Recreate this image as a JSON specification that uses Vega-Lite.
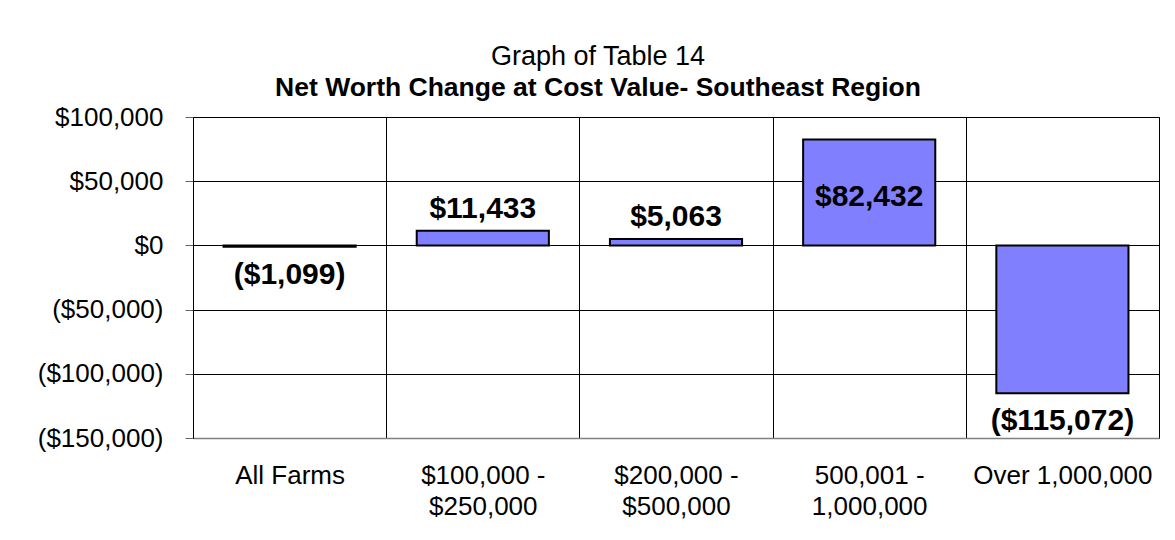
{
  "$schema": "https://vega.github.io/schema/vega-lite/v6.json",
  "autosize": {"type": "none"},
  "width": 966,
  "height": 321,
  "padding": {"left": 193, "top": 117, "right": 16, "bottom": 102},
  "background": "white",
  "title": {
    "text": "Graph of Table 14",
    "subtitle": "Net Worth Change at Cost Value- Southeast Region",
    "anchor": "middle",
    "frame": "group",
    "dx": -78,
    "offset": 2,
    "font": "Liberation Sans",
    "fontSize": 27,
    "fontWeight": "normal",
    "color": "black",
    "subtitleFont": "Liberation Sans",
    "subtitleFontSize": 26.5,
    "subtitleFontWeight": "bold",
    "subtitleColor": "black",
    "subtitlePadding": 4
  },
  "data": {
    "values": [
      {"group": "All Farms", "value": -1099},
      {"group": "$100,000 - $250,000", "value": 11433},
      {"group": "$200,000 - $500,000", "value": 5063},
      {"group": "500,001 - 1,000,000", "value": 82432},
      {"group": "Over 1,000,000", "value": -115072}
    ]
  },
  "encoding": {
    "x": {
      "field": "group",
      "type": "nominal",
      "sort": null,
      "scale": {"paddingInner": 0, "paddingOuter": 0},
      "axis": {
        "title": null,
        "labelAngle": 0,
        "labelFont": "Liberation Sans",
        "labelFontSize": 26,
        "labelColor": "black",
        "labelPadding": 24,
        "labelLineHeight": 31,
        "labelBaseline": "top",
        "labelExpr": "indexof(datum.label, ' - ') > 0 ? [slice(datum.label, 0, indexof(datum.label, ' - ') + 2), slice(datum.label, indexof(datum.label, ' - ') + 3)] : datum.label",
        "ticks": false,
        "tickSize": 0,
        "tickBand": "extent",
        "grid": true,
        "gridColor": "black",
        "gridWidth": 1,
        "gridOpacity": 1,
        "domainColor": "#808080",
        "domainWidth": 1.5
      }
    },
    "y": {
      "field": "value",
      "type": "quantitative",
      "scale": {"domain": [-150000, 100000], "nice": false, "zero": false},
      "axis": {
        "title": null,
        "values": [-150000, -100000, -50000, 0, 50000, 100000],
        "labelExpr": "datum.value < 0 ? format(datum.value, '($,.0f') : format(datum.value, '$,.0f') + '\u00a0'",
        "labelFont": "Liberation Sans",
        "labelFontSize": 26,
        "labelColor": "black",
        "labelPadding": 22,
        "tickSize": 8,
        "tickColor": "#666666",
        "domainColor": "black",
        "domainWidth": 1,
        "grid": true,
        "gridColor": "black",
        "gridWidth": 1,
        "gridOpacity": 1
      }
    }
  },
  "layer": [
    {
      "mark": {"type": "bar", "fill": "#8080FF", "stroke": "black", "strokeWidth": 2, "width": {"band": 0.684}}
    },
    {
      "transform": [{"filter": "datum.value > 0 && datum.value < 80000"}],
      "mark": {"type": "text", "font": "Liberation Sans", "fontSize": 30, "fontWeight": "bold", "color": "black", "baseline": "alphabetic", "dy": -13},
      "encoding": {"text": {"field": "value", "type": "quantitative", "format": "($,.0f"}}
    },
    {
      "transform": [{"filter": "datum.value >= 80000"}],
      "mark": {"type": "text", "font": "Liberation Sans", "fontSize": 30, "fontWeight": "bold", "color": "black", "baseline": "alphabetic", "dy": 66},
      "encoding": {"text": {"field": "value", "type": "quantitative", "format": "($,.0f"}}
    },
    {
      "transform": [{"filter": "datum.value < 0"}],
      "mark": {"type": "text", "font": "Liberation Sans", "fontSize": 30, "fontWeight": "bold", "color": "black", "baseline": "alphabetic", "dy": 37},
      "encoding": {"text": {"field": "value", "type": "quantitative", "format": "($,.0f"}}
    }
  ],
  "config": {
    "view": {"stroke": "black", "strokeWidth": 1}
  }
}
